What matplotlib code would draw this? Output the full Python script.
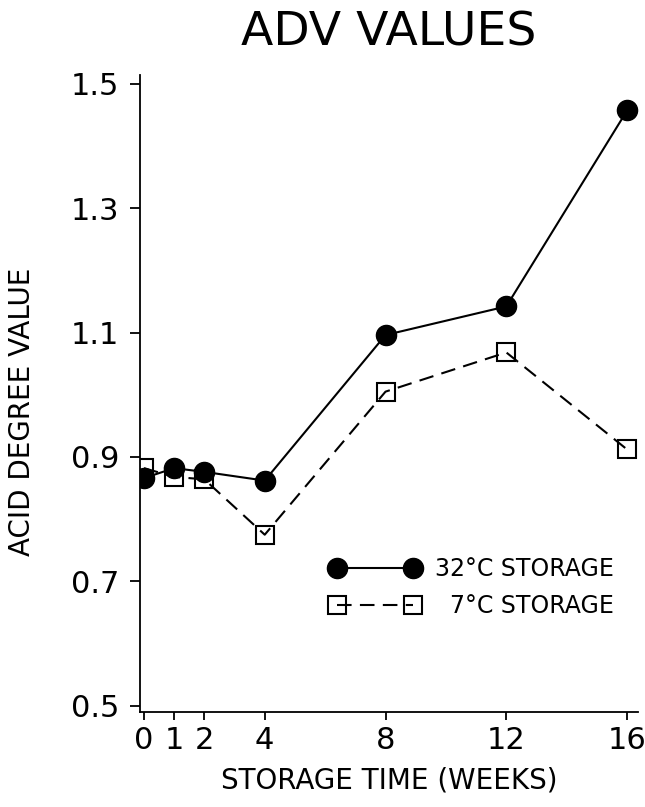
import matplotlib
matplotlib.use("Agg")
import matplotlib.pyplot as plt

weeks = [0, 1, 2, 4, 8, 12, 16]
adv_32c = [0.866, 0.882, 0.876, 0.862, 1.096, 1.142, 1.457]
adv_7c = [0.882, 0.868, 0.864, 0.775, 1.005, 1.068, 0.912]
xticks = [0, 1, 2, 4, 8, 12, 16]
yticks = [0.5, 0.7, 0.9, 1.1, 1.3, 1.5]
ytick_labels = ["0.5", "0.7", "0.9", "1.1", "1.3", "1.5"]

plt.rcParams['font.family'] = ['DejaVu Sans']

fig = plt.figure(figsize=(6.45, 8.07), dpi=100)
ax = fig.add_axes([140/645, 1-712/807, 498/645, 637/807])

ax.plot(weeks, adv_7c, color='black', lw=1.5, dashes=(7, 4),
        marker='s', markersize=13, markerfacecolor='none',
        markeredgecolor='black', markeredgewidth=1.5,
        label='\u20077°C STORAGE', zorder=3)
ax.plot(weeks, adv_32c, color='black', lw=1.5, linestyle='-',
        marker='o', markersize=14.5, markerfacecolor='black',
        markeredgecolor='black', label='32°C STORAGE', zorder=4)

ax.set_xlim(-0.13, 16.36)
ax.set_ylim(0.49, 1.514)
ax.set_xticks(xticks)
ax.set_xticklabels([str(x) for x in xticks])
ax.set_yticks(yticks)
ax.set_yticklabels(ytick_labels)

for s in ['top', 'right']:
    ax.spines[s].set_visible(False)
for s in ['left', 'bottom']:
    ax.spines[s].set_linewidth(1.3)

ax.tick_params(axis='y', direction='out', length=7, width=1.3, pad=8, labelsize=22)
ax.tick_params(axis='x', direction='out', length=6, width=1.3, pad=4, labelsize=22)

ax.set_xlabel('STORAGE TIME (WEEKS)', fontsize=20)
ax.set_ylabel('ACID DEGREE VALUE', fontsize=20)
ax.xaxis.set_label_coords((389-140)/498, (712-780)/637)
ax.yaxis.set_label_coords((22-140)/498, (712-412)/637)
ax.xaxis.label.set_va('center')
ax.yaxis.label.set_va('center')

fig.text(389/645, 1-33/807, 'ADV VALUES', fontsize=34, ha='center', va='center')

handles, labels = ax.get_legend_handles_labels()
leg = ax.legend(handles[::-1], labels[::-1], loc='center',
                bbox_to_anchor=(0.667, 0.195), frameon=False,
                numpoints=2, handlelength=3.82, handletextpad=0.64,
                labelspacing=0.55, fontsize=17, borderpad=0)

fig.savefig('out.png', dpi=100)
